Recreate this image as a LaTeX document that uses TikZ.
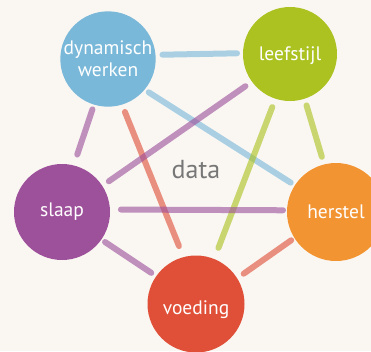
\documentclass[tikz,border=0pt]{standalone}
\usepackage{fontspec}
\setmainfont{PT Sans}
\definecolor{bgc}{HTML}{FAF7F3}
\definecolor{cblue}{HTML}{79B8D9}
\definecolor{cgreen}{HTML}{ABC221}
\definecolor{cpurple}{HTML}{9E519B}
\definecolor{corange}{HTML}{F39432}
\definecolor{cred}{HTML}{E05038}
\definecolor{cgray}{HTML}{777777}
\tikzset{
  topic/.style={circle, inner sep=0pt, outer sep=0pt, text=white, align=center,
    font=\fontsize{19.5}{22}\selectfont},
  link/.style={line width=6pt, line cap=round, draw opacity=0.62},
}
\begin{document}
\begin{tikzpicture}[x=1pt,y=-1pt]
\path[use as bounding box] (0,0) rectangle (371,351);
\clip (0,0) rectangle (371,351);
\fill[bgc] (0,0) rectangle (371,351);
\node[topic, fill=cblue, minimum size=94pt] (dyn) at (108,59) {dynamisch\\werken};
\node[topic, fill=cgreen, minimum size=94pt] (leef) at (290,54) {\raisebox{-2pt}[\height][\depth]{leefstijl}};
\node[topic, fill=cpurple, minimum size=96pt] (slaap) at (62,212) {slaap};
\node[topic, fill=corange, minimum size=98pt] (her) at (336,212) {herstel};
\node[topic, fill=cred, minimum size=97pt] (voed) at (196,304) {\raisebox{-6pt}[\height][\depth]{voeding}};
\node[text=cgray, font=\fontsize{26}{28}\selectfont] (data) at (196,170) {data};
% links
\draw[link, cblue, shorten <=7pt, shorten >=6pt] (dyn.5) -- (leef.179);
\draw[link, cblue, shorten <=5pt, shorten >=5pt] (dyn.-40) -- (her.147);
\draw[link, cpurple, shorten <=5pt, shorten >=11.5pt] (dyn.253) -- (slaap.76);
\draw[link, cred, shorten <=8pt, shorten >=12pt] (dyn.287) -- (voed.105);
\draw[link, cpurple, shorten <=8pt, shorten >=8pt] (leef.216) -- (slaap.33);
\draw[link, cgreen, shorten <=9pt, shorten >=12pt] (leef.252) -- (voed.68);
\draw[link, cgreen, shorten <=7pt, shorten >=8pt] (leef.288) -- (her.104);
\draw[link, cpurple, shorten <=11pt, shorten >=4pt] (slaap.3) -- (her.178);
\draw[link, cpurple, shorten <=4.5pt, shorten >=6pt] (slaap.325) -- (voed.145);
\draw[link, cred, shorten <=4pt, shorten >=8pt] (her.212) -- (voed.32);
\end{tikzpicture}
\end{document}
